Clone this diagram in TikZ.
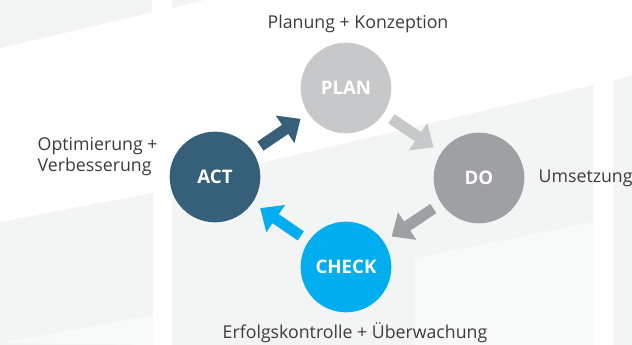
\documentclass[tikz,border=0pt]{standalone}
\usepackage{fontspec}
\setmainfont{Open Sans}
\usetikzlibrary{arrows.meta}

\definecolor{plancol}{HTML}{C7C8CA}
\definecolor{docol}{HTML}{9FA0A3}
\definecolor{checkcol}{HTML}{00AEEF}
\definecolor{actcol}{HTML}{36607A}
\definecolor{textcol}{HTML}{3C3C3C}
\definecolor{bggray}{HTML}{F3F4F4}
\definecolor{bglight}{HTML}{F8F9F9}

\begin{document}
\begin{tikzpicture}[x=0.75pt,y=-0.75pt,
  cyclearrow/.style={line width=8.25pt,-{Triangle[width=24pt,length=14pt]},
    shorten >=7pt,shorten <=7pt},
  lbl/.style={text=textcol,font=\fontsize{13.3}{15.75}\selectfont}]
% background panels
\fill[white] (0,0) rectangle (632,345);
\fill[bggray] (0,0) -- (205,0) -- (0,48) -- cycle;
\fill[white] (152,0) -- (172,0) -- (172,8) -- (152,12.5) -- cycle;
\fill[bggray] (0,222) -- (153,193) -- (153,345) -- (0,345) -- cycle;
\fill[bglight] (0,343) -- (153,315) -- (153,345) -- cycle;
\fill[bggray] (172,184) -- (593,85) -- (593,345) -- (172,345) -- cycle;
\fill[bglight] (415,258) -- (593,222) -- (593,345) -- (415,345) -- cycle;
\fill[bggray] (613,80) -- (632,76) -- (632,345) -- (613,345) -- cycle;
\useasboundingbox (0,0) rectangle (632,345);

\begin{scope}[every node/.style={circle,minimum size=68pt,inner sep=0pt,
    text=white,font=\fontsize{14}{16}\selectfont\bfseries}]
\node[fill=plancol] (P) at (346,88) {PLAN};
\node[fill=docol] (D) at (479,178) {DO};
\node[fill=checkcol] (C) at (346,267) {CHECK};
\node[fill=actcol] (A) at (215,177) {ACT};
\end{scope}
\draw [cyclearrow,actcol] (A) -- (P);
\draw [cyclearrow,plancol] (P) -- (D);
\draw [cyclearrow,docol] (D) -- (C);
\draw [cyclearrow,checkcol] (C) -- (A);

\node[lbl,anchor=base] (planlbl) at (358,29) {Planung + Konzeption};
\node[lbl,anchor=base west] (dolbl) at (534,183) {Umsetzung};
\node[lbl,anchor=base west] (checklbl) at (218,339) {Erfolgskontrolle + Überwachung};
\node[lbl,anchor=base west,align=left] (actlbl) at (33,172) {Optimierung +\\Verbesserung};
\end{tikzpicture}
\end{document}
